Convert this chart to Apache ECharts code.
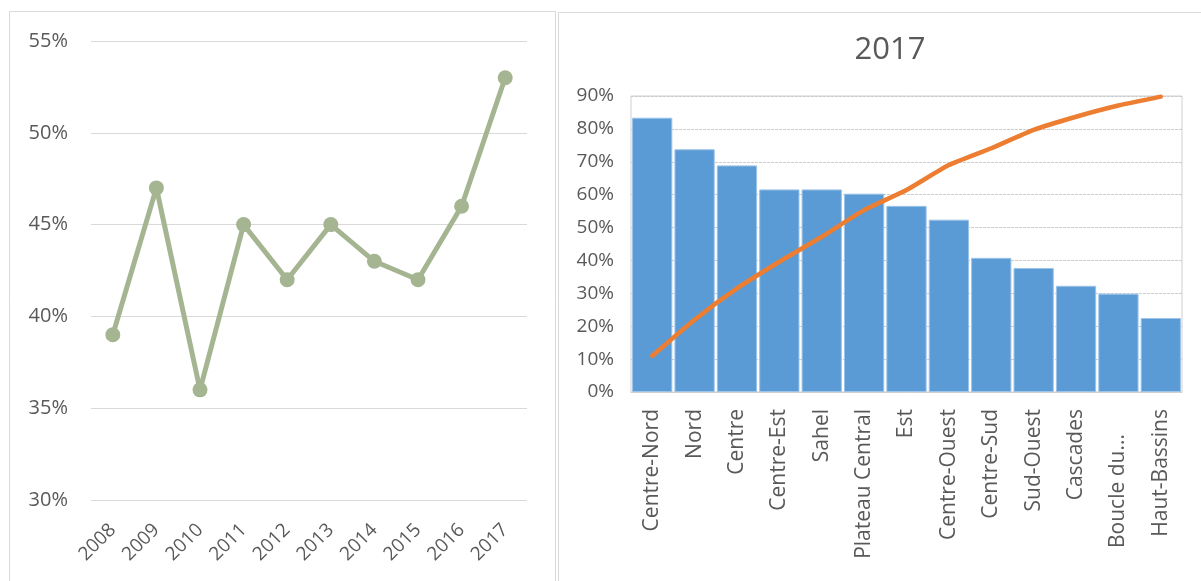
<!DOCTYPE html>
<html>
<head>
<meta charset="utf-8">
<script src="https://cdn.jsdelivr.net/npm/echarts@6/dist/echarts.min.js"></script>
<style>
html,body{margin:0;padding:0;background:#fff;}
#c{width:1201px;height:581px;}
</style>
</head>
<body>
<div id="c"></div>
<script>
// Left chart data
const years = ['2008','2009','2010','2011','2012','2013','2014','2015','2016','2017'];
const yearValues = [39, 47, 36, 45, 42, 45, 43, 42, 46, 53];

// Right chart data
const regions = ['Centre-Nord','Nord','Centre','Centre-Est','Sahel','Plateau Central','Est','Centre-Ouest','Centre-Sud','Sud-Ouest','Cascades','Boucle du...','Haut-Bassins'];
const regionValues = [83.4, 73.8, 68.9, 61.6, 61.6, 60.3, 56.6, 52.4, 40.8, 37.7, 32.3, 29.9, 22.5];
const cumulativeValues = [11, 22, 31.5, 39.6, 47.2, 55.3, 61.4, 69, 74.1, 79.7, 83.7, 87.1, 89.8];
const titleText = '2017';

const FONT = '"Open Sans", sans-serif';
const TXT = '#595959';

const chart = echarts.init(document.getElementById('c'), null, {renderer: 'canvas'});

chart.setOption({
  backgroundColor: '#fff',
  animation: false,
  textStyle: {fontFamily: FONT},
  title: {
    text: titleText,
    left: 885, top: 30, textAlign: 'center',
    textStyle: {fontFamily: FONT, fontSize: 31, fontWeight: 'normal', color: TXT}
  },
  graphic: [
    {type: 'rect', shape: {x: 9.5, y: 11.5, width: 546, height: 620}, style: {fill: 'none', stroke: '#d9d9d9', lineWidth: 1}, silent: true},
    {type: 'rect', shape: {x: 558.5, y: 12.5, width: 700, height: 620}, style: {fill: 'none', stroke: '#d9d9d9', lineWidth: 1}, silent: true}
  ],
  grid: [
    {left: 91, right: 674, top: 41, bottom: 81},
    {left: 631, right: 19, top: 96, bottom: 189, show: true, borderColor: '#d0d0d0', borderWidth: 1}
  ],
  xAxis: [
    {
      type: 'category', gridIndex: 0, data: years, boundaryGap: true,
      axisLine: {show: false}, axisTick: {show: false},
      axisLabel: {rotate: 45, color: TXT, fontSize: 19, fontFamily: FONT, margin: 27, interval: 0}
    },
    {
      type: 'category', gridIndex: 1, data: regions, boundaryGap: true,
      axisLine: {show: true, lineStyle: {color: '#d0d0d0'}}, axisTick: {show: false},
      axisLabel: {
        rotate: 90, color: TXT, fontSize: 21, fontFamily: FONT, margin: 17, interval: 0,
        formatter: function (v) { return v === 'Boucle du...' ? '{p|' + v + '}' : v; },
        rich: {p: {padding: [0, 25, 0, 0], fontSize: 21, fontFamily: FONT, color: TXT}}
      }
    }
  ],
  yAxis: [
    {
      type: 'value', gridIndex: 0, min: 30, max: 55, interval: 5,
      axisLine: {show: false}, axisTick: {show: false},
      axisLabel: {formatter: '{value}%', color: TXT, fontSize: 20, fontFamily: FONT, margin: 23},
      splitLine: {lineStyle: {color: '#d9d9d9', width: 1}}
    },
    {
      type: 'value', gridIndex: 1, min: 0, max: 90, interval: 10,
      axisLine: {show: false}, axisTick: {show: false},
      axisLabel: {formatter: '{value}%', color: TXT, fontSize: 19, fontFamily: FONT, margin: 17},
      splitLine: {lineStyle: {color: '#cccccc', width: 1, type: [3, 1]}}
    }
  ],
  series: [
    {
      type: 'line', xAxisIndex: 0, yAxisIndex: 0, data: yearValues,
      symbol: 'circle', symbolSize: 15,
      lineStyle: {color: '#a5b592', width: 5},
      itemStyle: {color: '#a5b592'}
    },
    {
      type: 'bar', xAxisIndex: 1, yAxisIndex: 1, data: regionValues,
      barCategoryGap: '5%',
      itemStyle: {color: '#5b9bd5', borderColor: '#9cc3e8', borderWidth: 1}
    },
    {
      type: 'line', xAxisIndex: 1, yAxisIndex: 1, data: cumulativeValues,
      symbol: 'none', smooth: 0.2,
      lineStyle: {color: '#ed7d31', width: 4.5, cap: 'round'}
    }
  ]
});
</script>
</body>
</html>
